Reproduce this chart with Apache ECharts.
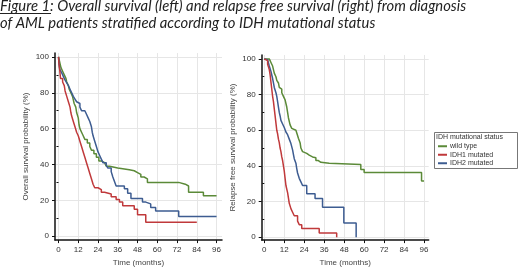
<!DOCTYPE html>
<html lang="en">

<head>
  <meta charset="UTF-8">
  <title>IDH survival curves</title>
  <script src="https://cdn.jsdelivr.net/npm/echarts@6/dist/echarts.min.js"></script>
  <style>
    * {
      margin: 0;
      padding: 0;
      box-sizing: border-box;
    }

    body {
      background: #fff;
    }

    #chart {
      width: 520px;
      height: 272px;
    }
  </style>
</head>

<body>
  <div id="chart"></div>

  <script>
    // group names (legend)
    const groups = ['wild type', 'IDH1 mutated', 'IDH2 mutated'];
    const groupColors = ['#5b8a38', '#c0393b', '#3d5c91'];

    // [time (months), survival %], drop happens at that time
    const osWild = [[0, 100], [0.5, 98], [1, 96], [1.5, 94], [2.5, 92], [3.5, 90], [4.5, 88], [5, 86], [6, 84], [6.5, 82],
      [7.5, 80], [8.5, 78], [9, 76], [9.5, 74], [10.5, 72], [11, 69], [12, 66], [12.5, 62], [13, 60], [14, 58], [15, 56],
      [16, 54], [17.5, 52], [19, 50], [20, 48], [21.5, 46], [23, 44], [24.5, 42], [26, 41], [28, 40], [29, 39], [31, 38],
      [36, 37.5], [40, 37], [43, 36.5], [46, 35.5], [48, 34.5], [50, 33], [52, 32], [54, 30], [73, 29], [77, 28],
      [79, 24.5], [88, 22.5], [96, 22.5]];
    const osIdh1 = [[0, 100], [0.3, 96], [0.8, 92], [1.2, 88], [2.5, 86], [3.5, 84], [4, 81], [5, 78], [6, 75], [7, 72],
      [7.5, 69], [8, 67], [9, 64], [10, 61], [11, 58], [12, 56], [13, 53], [14, 50], [15, 47], [16, 44], [17, 41],
      [18, 38], [19, 35], [20, 32], [21, 29], [22, 27], [24, 26], [26, 24.5], [28, 23.5], [32, 22], [35, 20.5],
      [37, 19], [39, 17], [46, 15], [48, 12], [53, 7.7], [84, 7.7]];
    const osIdh2 = [[0, 100], [0.3, 96], [0.8, 93], [2, 91], [3, 89], [4, 87], [5, 85.5], [6, 84], [7, 82], [8, 80],
      [9, 78], [10, 76.5], [11, 75], [12, 74], [13, 72], [14, 70], [16, 69], [17, 68], [18, 66], [19, 64], [20, 61],
      [20.5, 58], [21, 56], [22, 53], [23, 50], [24, 47], [25, 45], [26, 43], [27, 41], [29, 39.5], [30, 38],
      [32, 36], [33, 33], [34, 30.5], [35, 28], [40, 26.5], [42, 24], [44, 21], [51, 19], [53, 18], [56, 16],
      [59, 14], [73, 11], [96, 11]];

    const rfsWild = [[0, 100], [3, 99.5], [4, 98], [5, 96], [5.5, 94], [6, 92], [7, 90], [7.5, 88], [8.5, 86.5], [9, 84],
      [9.5, 83], [10.5, 81], [11.5, 79], [12.5, 77], [13, 75], [13.5, 73], [14, 70], [14.5, 67], [15.5, 63],
      [16.5, 61], [17.5, 60], [19, 59], [20, 57], [20.5, 55.5], [21.5, 53], [22, 50], [23, 48], [24, 47],
      [25.5, 46], [27, 45], [29, 44.5], [31, 43], [32.5, 42], [34, 41.5], [39, 40.8], [58, 38], [60, 36.3],
      [94.5, 31.5], [96, 31.5]];
    const rfsIdh1 = [[0, 100], [1, 99], [2, 97], [3, 94], [3.5, 91], [4, 87], [4.5, 83], [5, 79], [5.5, 76], [6, 72],
      [6.5, 68], [7, 64], [7.5, 60], [8, 58], [8.5, 55], [9, 53], [9.5, 50], [10, 48], [10.5, 45], [11, 43],
      [11.5, 40], [12, 37], [12.5, 33], [13, 29], [14, 25], [14.5, 22], [15, 19], [16, 16], [17, 14], [18, 12],
      [20, 9], [21, 7], [22.5, 4.8], [33, 2.3], [43.5, 0]];
    const rfsIdh2 = [[0, 100], [1, 99.5], [2, 98.5], [3, 96], [4, 93], [4.5, 91], [5, 89], [5.5, 86.5], [6, 84], [7, 81],
      [7.5, 79], [8, 76], [8.5, 73], [9, 70], [9.5, 68], [10, 65.5], [11, 63.5], [12, 61.5], [13, 59], [14, 57.5],
      [15, 55], [16, 52.5], [17, 49], [17.5, 46.5], [18, 44], [19, 41.5], [19.5, 38.5], [20, 36], [21, 33], [22, 31],
      [23, 29], [25.5, 24.4], [30.5, 21.7], [35, 16.8], [47.8, 8], [55.2, 0]];

    // tick values
    const monthTicks = [0, 12, 24, 36, 48, 60, 72, 84, 96];
    const pctTicks = [0, 20, 40, 60, 80, 100];
    const pctMinorTicks = [10, 30, 50, 70, 90];

    const titleLine1 = 'Figure 1: Overall survival (left) and relapse free survival (right) from diagnosis';
    const titleLine2 = 'of AML patients stratified according to IDH mutational status';
    const xName = 'Time (months)';
    const yNames = ['Overall survival probability (%)', 'Relapse free survival probability (%)'];
    const legendTitle = 'IDH mutational status';

    const axisFont = 'Liberation Sans, Arial, sans-serif';

    // axes run a little past the data range on both ends, like the original
    function makeX(gridIndex, min, max) {
      return {
        type: 'value',
        gridIndex,
        min,
        max,
        name: xName,
        nameLocation: 'middle',
        nameGap: 15,
        nameTextStyle: { color: '#444', fontSize: 8, fontFamily: axisFont },
        axisLine: { show: true, onZero: false, lineStyle: { color: '#111', width: 1.5 } },
        axisTick: { show: true, length: 3, customValues: monthTicks, lineStyle: { color: '#111' } },
        axisLabel: { color: '#333', fontSize: 8, fontFamily: axisFont, margin: 6, customValues: monthTicks },
        splitLine: { show: true, lineStyle: { color: '#e6e6e6', width: 1 } }
      };
    }

    function makeY(gridIndex, min, max, name) {
      return {
        type: 'value',
        gridIndex,
        min,
        max,
        name,
        nameLocation: 'middle',
        nameGap: 25,
        nameTextStyle: { color: '#444', fontSize: 8, fontFamily: axisFont },
        axisLine: { show: true, onZero: false, lineStyle: { color: '#111', width: 1.5 } },
        axisTick: { show: true, length: 3, customValues: pctTicks, lineStyle: { color: '#111' } },
        axisLabel: { color: '#333', fontSize: 8, fontFamily: axisFont, margin: 6, customValues: pctTicks },
        splitLine: { show: true, lineStyle: { color: '#e6e6e6', width: 1 } }
      };
    }

    // second y axis only for the short minor ticks
    function makeMinorY(gridIndex, min, max) {
      return {
        type: 'value',
        gridIndex,
        position: 'left',
        min,
        max,
        axisLine: { show: false },
        axisTick: { show: true, length: 2, customValues: pctMinorTicks, lineStyle: { color: '#111' } },
        axisLabel: { show: false },
        splitLine: { show: false }
      };
    }

    function makeSeries(data, i, axisIndex) {
      return {
        name: groups[i],
        type: 'line',
        step: 'end',
        xAxisIndex: axisIndex,
        yAxisIndex: axisIndex,
        data,
        showSymbol: false,
        symbol: 'none',
        lineStyle: { width: 1.5, color: groupColors[i] },
        itemStyle: { color: groupColors[i] },
        animation: false
      };
    }

    const myChart = echarts.init(document.getElementById('chart'));

    const option = {
      animation: false,
      grid: [
        { left: 55, top: 53, width: 167, height: 191 },
        { left: 261.7, top: 55, width: 167, height: 189 }
      ],
      xAxis: [makeX(0, -2.13, 99.3), makeX(1, -1.56, 98.8)],
      yAxis: [
        makeY(0, -2.19, 102.19, yNames[0]),
        makeY(1, -1.65, 102.2, yNames[1]),
        makeMinorY(0, -2.19, 102.19),
        makeMinorY(1, -1.65, 102.2)
      ],
      legend: {
        data: groups,
        orient: 'vertical',
        left: 438,
        top: 142,
        padding: 0,
        itemWidth: 9,
        itemHeight: 2,
        itemGap: 0,
        icon: 'rect',
        z: 5,
        textStyle: { color: '#333', fontSize: 7, fontFamily: axisFont, lineHeight: 8.5, padding: [0, 0, 0, -2] }
      },
      graphic: [
        {
          type: 'text',
          left: 0,
          top: -1,
          style: { text: titleLine1, font: 'italic 14.8px Lato', fill: '#222' }
        },
        {
          type: 'text',
          left: 0,
          top: 16,
          style: { text: titleLine2, font: 'italic 14.8px Lato', fill: '#222' }
        },
        {
          type: 'line',
          shape: { x1: 0, y1: 13.5, x2: 51, y2: 13.5 },
          style: { stroke: '#222', lineWidth: 1 }
        },
        {
          type: 'rect',
          z: 1,
          shape: { x: 434.5, y: 132.5, width: 83, height: 36 },
          style: { fill: '#fff', stroke: '#777', lineWidth: 1 }
        },
        {
          type: 'text',
          z: 2,
          left: 436,
          top: 133.5,
          style: { text: legendTitle, font: '7px Liberation Sans', fill: '#333' }
        }
      ],
      series: [
        makeSeries(osWild, 0, 0),
        makeSeries(osIdh2, 2, 0),
        makeSeries(osIdh1, 1, 0),
        makeSeries(rfsWild, 0, 1),
        makeSeries(rfsIdh2, 2, 1),
        makeSeries(rfsIdh1, 1, 1)
      ]
    };

    myChart.setOption(option);
  </script>
</body>

</html>
